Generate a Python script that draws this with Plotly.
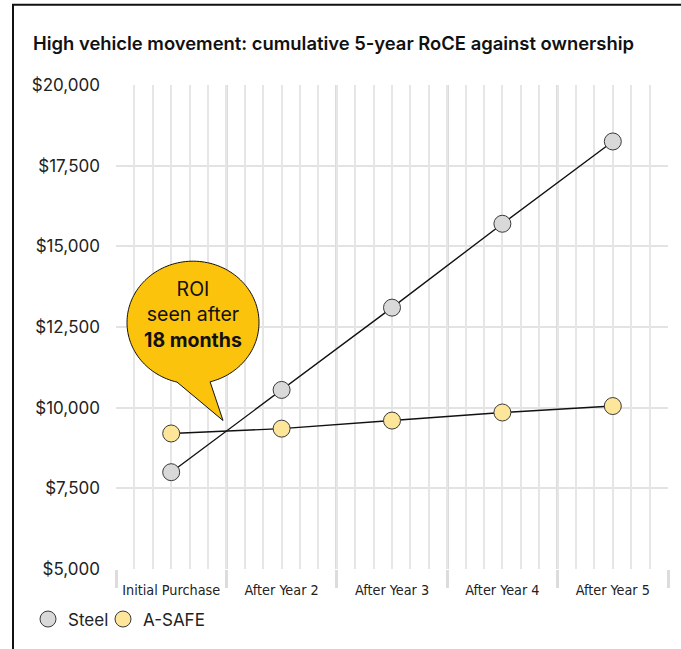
import numpy as np
import plotly.graph_objects as go

# ---------------- data ----------------
categories = ["Initial Purchase", "After Year 2", "After Year 3", "After Year 4", "After Year 5"]
steel = [8000, 10550, 13100, 15700, 18250]
asafe = [9200, 9350, 9600, 9850, 10050]
series_names = ["Steel", "A-SAFE"]
title_text = "High vehicle movement: cumulative 5-year RoCE against ownership"
callout_lines = ["ROI", "seen after", "<b>18 months</b>"]

# ---------------- layout geometry ----------------
W, H = 681, 649
ML, MR, MT, MB = 116, 13, 85, 75
X_RANGE = [-0.5, len(categories) - 0.5]
Y_RANGE = [5000, 20000]
PW, PH = W - ML - MR, H - MT - MB


def px_x(px):
    return X_RANGE[0] + (px - ML) / PW * (X_RANGE[1] - X_RANGE[0])


def px_y(py):
    return Y_RANGE[0] + (MT + PH - py) / PH * (Y_RANGE[1] - Y_RANGE[0])


def paper_x(px):
    return (px - ML) / PW


def paper_y(py):
    return (MT + PH - py) / PH


xi = list(range(len(categories)))

STEEL_FILL = "#d9d9d9"
ASAFE_FILL = "#fde59a"
EDGE = "#3a3a3a"
GOLD = "#fcc30c"
MAIN_FONT = "Inter, Roboto, sans-serif"

fig = go.Figure()

# invisible traces to activate the overlay grid axes
fig.add_trace(go.Scatter(x=[None], y=[None], xaxis="x3", yaxis="y", showlegend=False, hoverinfo="skip"))
fig.add_trace(go.Scatter(x=[None], y=[None], xaxis="x2", yaxis="y", showlegend=False, hoverinfo="skip"))

for vals, fill, name in [(steel, STEEL_FILL, series_names[0]), (asafe, ASAFE_FILL, series_names[1])]:
    fig.add_trace(go.Scatter(
        x=xi, y=vals, mode="lines+markers", name=name, showlegend=False,
        line=dict(color="#111111", width=1.4),
        marker=dict(size=17, color=fill, line=dict(color=EDGE, width=1)),
    ))

# legend-only marker entries
for fill, name, lw in [(STEEL_FILL, series_names[0], 30), (ASAFE_FILL, series_names[1], 70)]:
    fig.add_trace(go.Scatter(
        x=[None], y=[None], mode="markers", name=name, legendwidth=lw,
        marker=dict(size=17, color=fill, line=dict(color=EDGE, width=1)),
    ))

# ---------------- callout bubble ----------------
cx, cy, rx, ry = 193, 325, 66, 62
tip = (223, 424)
th = np.radians(np.linspace(75, -256, 140))
pts = [(cx + rx * np.cos(t), cy + ry * np.sin(t)) for t in th]
pts.append(tip)
path = "M " + " L ".join(f"{px_x(a):.5f},{px_y(b):.3f}" for a, b in pts) + " Z"

shapes = [
    dict(type="path", xref="x", yref="y", path=path, fillcolor=GOLD,
         line=dict(color="#111111", width=1), layer="above"),
    dict(type="rect", xref="paper", yref="paper",
         x0=paper_x(13), x1=paper_x(720), y0=paper_y(700), y1=paper_y(4),
         line=dict(color="#111111", width=2), fillcolor="rgba(0,0,0,0)", layer="above"),
]

annotations = [
    dict(xref="x", yref="y", x=px_x(cx), y=px_y(317), text="<br>".join(callout_lines),
         showarrow=False, align="center", xanchor="center", yanchor="middle",
         font=dict(family=MAIN_FONT, size=19.5, color="#111111"))
]

fig.update_layout(
    width=W, height=H,
    margin=dict(l=ML, r=MR, t=MT, b=MB),
    paper_bgcolor="white", plot_bgcolor="white",
    title=dict(text=title_text, xref="container", x=33 / W, xanchor="left",
               yref="container", y=1 - 44 / H, yanchor="middle",
               font=dict(family=MAIN_FONT, size=18.4, color="#111111", weight=600)),
    xaxis=dict(range=X_RANGE, tickmode="array", tickvals=xi, ticktext=categories,
               showgrid=False, zeroline=False, showline=False, ticks="",
               ticklabelstandoff=11,
               tickfont=dict(family="Liberation Sans Narrow, DejaVu Sans Condensed, sans-serif", size=14.3, color="#222222")),
    xaxis3=dict(range=X_RANGE, overlaying="x", anchor="y", tickmode="linear", tick0=-0.5, dtick=1 / 6,
                showgrid=True, gridcolor="#e6e6e6", gridwidth=2, showticklabels=False,
                ticks="", zeroline=False, showline=False),
    xaxis2=dict(range=X_RANGE, overlaying="x", anchor="y",
                tickmode="array", tickvals=[i - 0.5 for i in range(len(categories) + 1)],
                showgrid=True, gridcolor="#dcdcdc", gridwidth=3, showticklabels=False,
                ticks="outside", ticklen=18, tickwidth=3, tickcolor="#dcdcdc",
                zeroline=False, showline=False),
    yaxis=dict(range=Y_RANGE, tickmode="linear", tick0=5000, dtick=2500, tickformat="$,.0f",
               showgrid=True, gridcolor="#e3e3e3", gridwidth=2, zeroline=False, showline=False,
               ticks="", ticklabelstandoff=15,
               tickfont=dict(family=MAIN_FONT, size=17, color="#222222")),
    legend=dict(orientation="h", x=paper_x(28), xanchor="left", y=paper_y(625), yanchor="middle",
                font=dict(family=MAIN_FONT, size=17, color="#222222"),
                bgcolor="rgba(0,0,0,0)", itemclick=False, tracegroupgap=0),
    shapes=shapes,
    annotations=annotations,
    showlegend=True,
)

post = (
    "document.documentElement.style.overflow='hidden';"
    "document.body.style.margin='0';document.body.style.overflow='hidden';"
    "var gd=document.getElementById('{plot_id}');"
    "gd.style.position='fixed';gd.style.left='0px';gd.style.top='0px';"
)
fig.write_html("out.html", config={"displayModeBar": False}, post_script=post)
